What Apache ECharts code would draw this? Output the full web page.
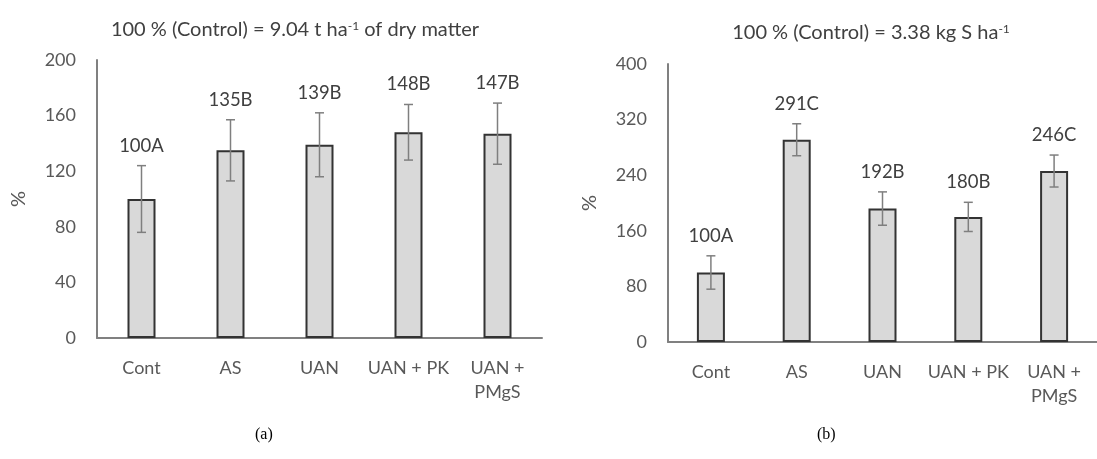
<!DOCTYPE html>
<html>
<head>
<meta charset="utf-8">
<script src="https://cdn.jsdelivr.net/npm/echarts@6/dist/echarts.min.js"></script>
<style>html,body{margin:0;padding:0;background:#fff}#c{width:1097px;height:459px}</style>
</head>
<body>
<div id="c"></div>
<script>
// ---- data ----
const categories = ['Cont', 'AS', 'UAN', 'UAN + PK', 'UAN +\nPMgS'];
const dmValues = [100, 135, 139, 148, 147];
const dmErr = [24, 22, 23, 20, 22];
const dmLetters = ['A', 'B', 'B', 'B', 'B'];
const sValues = [100, 291, 192, 180, 246];
const sErr = [24, 23, 24, 21, 23];
const sLetters = ['A', 'C', 'B', 'B', 'C'];
const dmTicks = [0, 40, 80, 120, 160, 200];
const sTicks = [0, 80, 160, 240, 320, 400];

const FONT = 'Lato';
const TXT = '#595959';
const AX = '#808080';

function errData(vals, errs, letters) {
  return vals.map((v, i) => [i, v - errs[i], v + errs[i], v + letters[i]]);
}
function errRender(params, api) {
  const x = api.value(0);
  const lo = api.coord([x, api.value(1)]);
  const hi = api.coord([x, api.value(2)]);
  const cap = 4.5;
  const st = { stroke: '#7f7f7f', lineWidth: 1.5 };
  return {
    type: 'group',
    children: [
      { type: 'line', shape: { x1: lo[0], y1: lo[1], x2: hi[0], y2: hi[1] }, style: st },
      { type: 'line', shape: { x1: lo[0] - cap, y1: lo[1], x2: lo[0] + cap, y2: lo[1] }, style: st },
      { type: 'line', shape: { x1: hi[0] - cap, y1: hi[1], x2: hi[0] + cap, y2: hi[1] }, style: st },
      { type: 'text', x: hi[0], y: hi[1] - 20,
        style: { text: api.value(3), fill: '#404040', font: '18.5px ' + FONT, align: 'center', verticalAlign: 'middle' } }
    ]
  };
}

function xAx(gi) {
  return {
    type: 'category', gridIndex: gi, data: categories,
    axisLine: { lineStyle: { color: AX, width: 2 } },
    axisTick: { show: false },
    axisLabel: { interval: 0, color: TXT, fontFamily: FONT, fontSize: 18, margin: 18, lineHeight: 24, verticalAlign: 'top' }
  };
}
function yAx(gi, ticks) {
  return {
    type: 'value', gridIndex: gi, min: ticks[0], max: ticks[ticks.length - 1],
    interval: ticks[1] - ticks[0],
    name: '%', nameLocation: 'middle', nameGap: 68, nameRotate: 90,
    nameTextStyle: { color: TXT, fontFamily: FONT, fontSize: 20 },
    axisLine: { show: true, lineStyle: { color: AX, width: 2 } },
    axisTick: { show: false },
    splitLine: { show: false },
    axisLabel: { color: TXT, fontFamily: FONT, fontSize: 18, margin: 21 }
  };
}
const barStyle = { color: '#d9d9d9', borderColor: '#333333', borderWidth: 2 };
const titleStyle = {
  color: '#404040', fontFamily: FONT, fontSize: 20, fontWeight: 'normal',
  rich: { sup: { fontSize: 12, verticalAlign: 'top', color: '#404040', fontFamily: FONT, padding: [0, 0, 8, 0] } }
};

const chart = echarts.init(document.getElementById('c'), null, { renderer: 'canvas' });
chart.setOption({
  animation: false,
  title: [
    { text: '100 % (Control) = 9.04 t ha{sup|-1} of dry matter', left: 290, top: 15, textAlign: 'center', textStyle: titleStyle },
    { text: '100 % (Control) = 3.38 kg S ha{sup|-1}', left: 866, top: 18, textAlign: 'center', textStyle: titleStyle }
  ],
  grid: [
    { left: 97, top: 60, width: 445, height: 278 },
    { left: 668, top: 64, width: 447, height: 278 }
  ],
  xAxis: [xAx(0), xAx(1)],
  yAxis: [yAx(0, dmTicks), yAx(1, sTicks)],
  series: [
    { type: 'bar', xAxisIndex: 0, yAxisIndex: 0, data: dmValues, barWidth: 28, itemStyle: barStyle },
    { type: 'custom', xAxisIndex: 0, yAxisIndex: 0, data: errData(dmValues, dmErr, dmLetters), renderItem: errRender, z: 5 },
    { type: 'bar', xAxisIndex: 1, yAxisIndex: 1, data: sValues, barWidth: 28, itemStyle: barStyle },
    { type: 'custom', xAxisIndex: 1, yAxisIndex: 1, data: errData(sValues, sErr, sLetters), renderItem: errRender, z: 5 }
  ],
  graphic: [
    { type: 'text', left: 255, top: 427, style: { text: '(a)', fill: '#000', font: '16px "Liberation Serif"' } },
    { type: 'text', left: 817, top: 427, style: { text: '(b)', fill: '#000', font: '16px "Liberation Serif"' } }
  ]
});
</script>
</body>
</html>
